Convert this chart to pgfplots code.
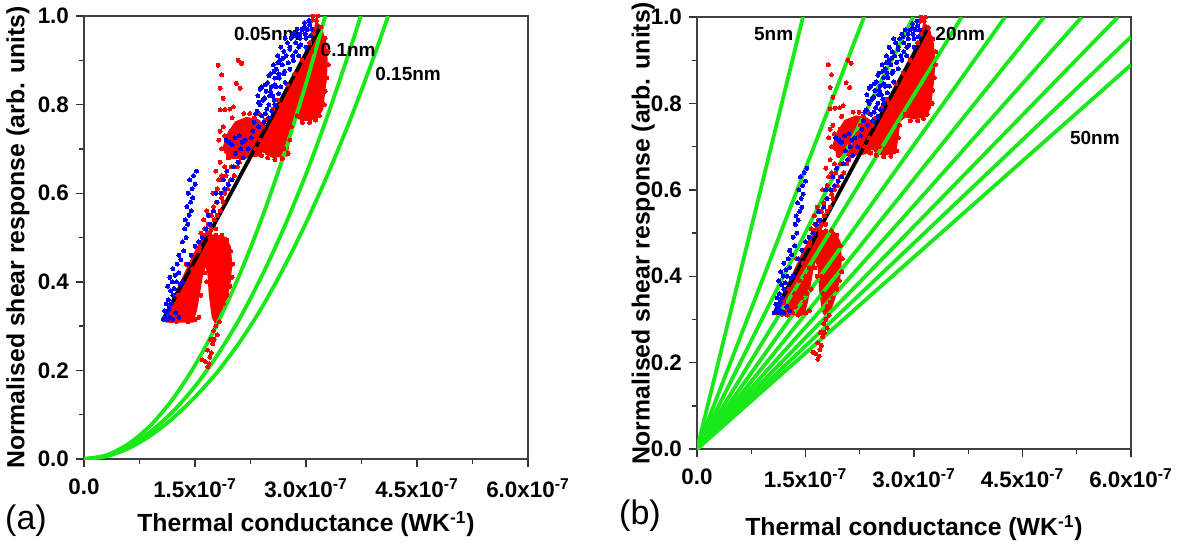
\documentclass[border=0pt]{standalone}
\usepackage{fontspec}
\setmainfont{Liberation Sans}
\usepackage{pgfplots}
\usepackage{pgfplotstable}
\pgfplotsset{compat=1.18}
\definecolor{lgreen}{RGB}{25,232,25}
\definecolor{pred}{RGB}{255,0,0}
\definecolor{pblue}{RGB}{0,0,255}

% dense red cores (x in units of 1e-7)
\pgfplotstableread{
x y
2.30 0.70
2.45 0.745
2.60 0.79
2.75 0.835
2.90 0.88
3.02 0.92
3.10 0.955
3.14 0.985
3.20 0.975
3.26 0.94
3.28 0.90
3.27 0.86
3.24 0.82
3.22 0.79
3.15 0.77
3.00 0.765
2.88 0.77
2.80 0.76
2.77 0.72
2.74 0.685
2.55 0.682
2.45 0.69
}\redcoreA
\pgfplotstableread{
x y
1.10 0.31
1.47 0.31
1.52 0.34
1.56 0.38
1.60 0.42
1.64 0.44
1.68 0.42
1.70 0.37
1.74 0.32
1.80 0.30
1.86 0.33
1.92 0.36
1.97 0.40
1.99 0.44
1.97 0.48
1.90 0.50
1.75 0.505
1.62 0.50
1.55 0.48
1.48 0.46
1.40 0.43
1.30 0.395
1.20 0.36
1.13 0.335
}\redcoreB
\pgfplotstableread{
x y
1.88 0.70
1.95 0.735
2.05 0.76
2.20 0.77
2.35 0.765
2.45 0.75
2.44 0.70
2.35 0.685
2.15 0.68
2.00 0.68
1.92 0.688
}\redcoreC

\pgfplotstableread{
x y
1.12 0.315
1.18 0.312
1.25 0.31
1.32 0.315
1.40 0.31
1.46 0.32
1.49 0.34
1.20 0.34
1.28 0.33
1.36 0.33
1.44 0.35
1.52 0.36
1.35 0.36
1.27 0.37
1.42 0.39
1.50 0.40
1.33 0.40
1.47 0.43
1.55 0.42
1.38 0.44
1.55 0.47
1.60 0.50
1.63 0.52
1.68 0.53
1.72 0.55
1.66 0.56
1.75 0.57
1.70 0.50
1.62 0.54
1.58 0.51
1.78 0.52
1.74 0.60
1.80 0.61
1.82 0.63
1.86 0.64
1.90 0.66
1.84 0.67
1.95 0.68
1.78 0.65
1.88 0.58
1.66 0.51
1.72 0.52
1.76 0.54
1.80 0.55
1.84 0.56
1.79 0.58
1.86 0.59
1.90 0.60
1.94 0.61
1.98 0.63
2.03 0.64
2.07 0.66
2.10 0.67
1.99 0.66
1.92 0.64
1.56 0.48
1.62 0.505
1.70 0.51
1.78 0.505
1.86 0.505
1.93 0.495
1.98 0.47
2.01 0.44
2.00 0.41
1.97 0.39
1.93 0.37
1.88 0.35
1.84 0.34
1.80 0.33
1.83 0.31
1.78 0.30
1.80 0.28
1.76 0.27
1.71 0.27
1.67 0.246
1.74 0.26
1.72 0.24
1.70 0.23
1.60 0.224
1.64 0.22
1.67 0.208
1.69 0.215
1.75 0.29
1.82 0.36
1.66 0.40
1.63 0.42
1.58 0.37
1.55 0.32
1.50 0.315
1.72 0.40
1.74 0.36
1.82 0.72
1.86 0.70
1.90 0.73
1.94 0.71
1.98 0.74
2.02 0.72
2.06 0.75
2.10 0.71
2.14 0.74
2.18 0.76
2.22 0.73
2.26 0.75
2.30 0.77
2.34 0.74
2.38 0.72
2.42 0.75
2.28 0.71
2.20 0.69
2.12 0.68
2.04 0.69
1.96 0.68
1.88 0.75
2.00 0.77
2.16 0.78
2.24 0.78
2.36 0.78
1.84 0.74
2.08 0.73
2.32 0.70
1.92 0.695
1.815 0.889
1.86 0.867
2.085 0.90
2.13 0.893
1.84 0.837
1.88 0.814
2.06 0.848
2.11 0.837
1.84 0.788
1.905 0.789
1.97 0.79
2.02 0.795
2.45 0.765
2.55 0.79
2.62 0.81
2.75 0.845
2.85 0.87
2.95 0.90
3.05 0.94
3.10 0.96
3.14 0.99
3.10 1.00
3.20 0.975
3.26 0.95
3.30 0.92
3.30 0.89
3.28 0.86
3.26 0.83
3.25 0.80
3.18 0.775
3.13 0.765
3.05 0.76
2.95 0.76
2.88 0.775
2.80 0.75
2.78 0.72
2.76 0.69
2.68 0.678
2.58 0.676
2.48 0.68
2.40 0.685
2.70 0.70
2.82 0.80
3.00 0.78
3.20 0.90
3.22 0.84
2.60 0.695
2.52 0.70
2.44 0.72
3.08 0.92
2.92 0.86
2.66 0.80
3.16 1.00
3.08 0.99
}\redpts

\pgfplotstableread{
x y
1.07 0.315
1.10 0.32
1.13 0.315
1.16 0.32
1.12 0.33
1.15 0.34
1.09 0.335
1.18 0.35
1.14 0.36
1.20 0.37
1.11 0.35
1.17 0.38
1.22 0.385
1.13 0.39
1.19 0.40
1.25 0.40
1.16 0.41
1.23 0.415
1.28 0.42
1.20 0.43
1.26 0.44
1.31 0.45
1.28 0.46
1.35 0.47
1.33 0.49
1.38 0.50
1.36 0.52
1.40 0.53
1.42 0.55
1.39 0.57
1.44 0.58
1.41 0.60
1.46 0.61
1.43 0.63
1.48 0.64
1.52 0.65
1.50 0.62
1.45 0.56
1.37 0.54
1.47 0.59
1.30 0.395
1.33 0.40
1.24 0.33
1.20 0.315
1.28 0.32
1.40 0.44
1.45 0.46
1.50 0.48
1.55 0.49
1.60 0.50
1.65 0.52
1.70 0.53
1.68 0.55
1.75 0.56
1.80 0.58
1.78 0.60
1.85 0.60
1.90 0.61
1.95 0.62
1.88 0.63
2.00 0.63
1.93 0.65
2.02 0.66
2.08 0.67
2.05 0.69
2.12 0.70
2.00 0.71
2.18 0.72
2.10 0.73
1.92 0.72
2.22 0.70
2.15 0.68
2.32 0.78
2.38 0.80
2.35 0.82
2.42 0.81
2.40 0.84
2.46 0.83
2.50 0.80
2.48 0.85
2.53 0.84
2.45 0.78
2.55 0.82
2.52 0.87
2.58 0.86
2.60 0.88
2.56 0.89
2.63 0.87
2.65 0.90
2.62 0.91
2.68 0.89
2.70 0.92
2.66 0.93
2.73 0.91
2.75 0.94
2.78 0.93
2.72 0.95
2.80 0.95
2.83 0.96
2.86 0.94
2.88 0.97
2.92 0.96
2.95 0.97
2.98 0.975
3.02 0.97
3.05 0.98
3.08 0.97
3.00 0.95
2.90 0.93
2.60 0.84
2.43 0.76
2.36 0.75
2.50 0.77
2.28 0.74
2.30 0.76
2.58 0.80
2.70 0.87
2.82 0.91
2.34 0.785
2.40 0.775
2.47 0.79
2.54 0.785
2.36 0.805
2.44 0.815
2.51 0.82
2.57 0.81
2.63 0.825
2.38 0.835
2.45 0.845
2.52 0.83
2.58 0.845
2.66 0.84
2.72 0.85
2.50 0.865
2.57 0.875
2.64 0.86
2.71 0.875
2.78 0.88
2.62 0.895
2.69 0.905
2.76 0.895
2.83 0.90
2.90 0.91
2.78 0.925
2.86 0.92
2.93 0.935
3.00 0.93
2.85 0.955
2.92 0.95
2.99 0.96
3.06 0.955
2.98 0.985
3.04 0.99
1.96 0.715
2.04 0.725
2.14 0.715
2.26 0.725
}\bluepts

\pgfplotsset{myaxis/.style={
  scale only axis, xmin=0, xmax=6, ymin=0, ymax=1,
  xtick={0,1.5,3,4.5,6},
  xticklabels={0.0,1.5x10\textsuperscript{-7},3.0x10\textsuperscript{-7},4.5x10\textsuperscript{-7},6.0x10\textsuperscript{-7}},
  minor xtick={0.75,2.25,3.75,5.25},
  ytick={0,0.2,0.4,0.6,0.8,1},
  yticklabels={0.0,0.2,0.4,0.6,0.8,1.0},
  minor ytick={0.1,0.3,0.5,0.7,0.9},
  tick align=outside, tick pos=left,
  major tick length=4pt, minor tick length=2.5pt,
  every tick/.style={black!80, line width=0.7pt},
  axis line style={black!75, line width=0.8pt},
  tick label style={font=\bfseries\fontsize{11.2}{13}\selectfont},
  xticklabel style={yshift=-2.5pt},
  label style={font=\bfseries\fontsize{12.4}{14}\selectfont},
  xlabel={Thermal conductance (WK\textsuperscript{-1})},
  ylabel={Normalised shear response (arb. units)},
  redm/.style={only marks, mark=*, mark size=1.0pt, color=pred, mark options={fill=pred, draw=pred, line width=0pt}},
  bluem/.style={only marks, mark=*, mark size=1.0pt, color=pblue, mark options={fill=pblue, draw=pblue, line width=0pt}},
  core/.style={fill=pred, draw=pred, line width=1pt, mark=none},
  gline/.style={color=lgreen, line width=1.9pt, mark=none},
  bline/.style={color=black, line width=1.9pt, mark=none},
}}

\begin{document}
\begin{tikzpicture}
\useasboundingbox (0,0) rectangle (590pt,271.5pt);
% ---------------- panel (a)
\begin{axis}[myaxis, at={(42pt,42pt)}, anchor=south west, width=222pt, height=221.5pt,
  xlabel style={at={(axis description cs:0.5,-0.147)}, anchor=center},
  ylabel style={at={(axis description cs:-0.149,0.5)}, anchor=center}]
\addplot[core] table {\redcoreA};
\addplot[core] table {\redcoreB};
\addplot[core] table {\redcoreC};
\addplot[redm] table {\redpts};
\addplot[bluem] table {\bluepts};
\addplot[gline, smooth] coordinates {(0,0) (0.3,0.0085) (0.6,0.034) (0.9,0.076) (1.2,0.1355) (1.5,0.2117) (1.8,0.3049) (2.1,0.415) (2.4,0.542) (2.7,0.686) (3.0,0.847) (3.26,1.0)};
\addplot[gline, smooth] coordinates {(0,0) (0.3,0.007) (0.6,0.028) (0.9,0.062) (1.2,0.107) (1.5,0.164) (1.8,0.234) (2.1,0.316) (2.4,0.412) (2.7,0.521) (3.0,0.643) (3.3,0.779) (3.6,0.927) (3.74,1.0)};
\addplot[gline, smooth] coordinates {(0,0) (0.3,0.006) (0.6,0.024) (0.9,0.053) (1.2,0.092) (1.5,0.140) (1.8,0.196) (2.1,0.263) (2.4,0.341) (2.7,0.432) (3.0,0.533) (3.3,0.645) (3.6,0.767) (3.9,0.900) (4.11,1.0)};
\addplot[bline] coordinates {(1.07,0.315) (3.20,0.978)};
\node[font=\bfseries\fontsize{9.5}{11}\selectfont] at (axis cs:2.47,0.959) {0.05nm};
\node[font=\bfseries\fontsize{9.5}{11}\selectfont] at (axis cs:3.57,0.923) {0.1nm};
\node[font=\bfseries\fontsize{9.5}{11}\selectfont] at (axis cs:4.38,0.869) {0.15nm};
\end{axis}
\node[font=\fontsize{17}{19}\selectfont] at (13pt,11pt) {(a)};
% ---------------- panel (b)
\begin{axis}[myaxis, at={(348.5pt,47pt)}, anchor=south west, width=217pt, height=216pt,
  xlabel style={at={(axis description cs:0.5,-0.183)}, anchor=center},
  ylabel style={at={(axis description cs:-0.124,0.5)}, anchor=center}]
\addplot[core] table {\redcoreA};
\addplot[core] table {\redcoreB};
\addplot[core] table {\redcoreC};
\addplot[redm] table {\redpts};
\addplot[bluem] table {\bluepts};
\addplot[gline] coordinates {(0,0) (1.465,1)};
\addplot[gline] coordinates {(0,0) (2.31,1)};
\addplot[gline] coordinates {(0,0) (2.99,1)};
\addplot[gline] coordinates {(0,0) (3.66,1)};
\addplot[gline] coordinates {(0,0) (4.26,1)};
\addplot[gline] coordinates {(0,0) (4.80,1)};
\addplot[gline] coordinates {(0,0) (5.32,1)};
\addplot[gline] coordinates {(0,0) (5.82,1)};
\addplot[gline] coordinates {(0,0) (6,0.954)};
\addplot[gline] coordinates {(0,0) (6,0.889)};
\addplot[bline] coordinates {(1.07,0.315) (3.20,0.978)};
\node[font=\bfseries\fontsize{9.5}{11}\selectfont] at (axis cs:1.06,0.961) {5nm};
\node[font=\bfseries\fontsize{9.5}{11}\selectfont] at (axis cs:3.64,0.961) {20nm};
\node[font=\bfseries\fontsize{9.5}{11}\selectfont] at (axis cs:5.50,0.72) {50nm};
\end{axis}
\node[font=\fontsize{17}{19}\selectfont] at (320pt,13.5pt) {(b)};
\end{tikzpicture}
\end{document}
